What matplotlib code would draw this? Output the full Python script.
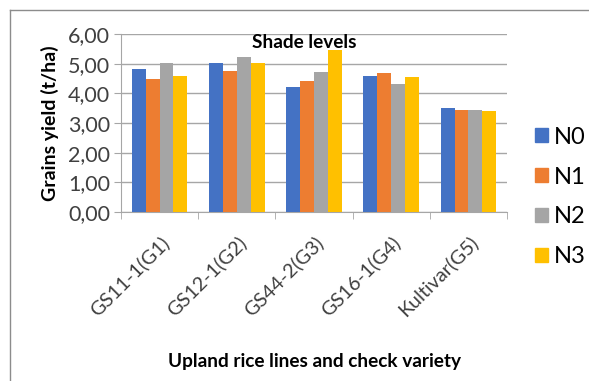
import matplotlib.pyplot as plt
import numpy as np
from matplotlib.lines import Line2D

plt.rcParams['font.family'] = ['Lato', 'DejaVu Sans']

categories = ['GS11-1(G1)', 'GS12-1(G2)', 'GS44-2(G3)', 'GS16-1(G4)', 'Kultivar(G5)']
series_names = ['N0', 'N1', 'N2', 'N3']
n0 = [4.81, 5.01, 4.20, 4.59, 3.49]
n1 = [4.48, 4.76, 4.41, 4.67, 3.44]
n2 = [5.01, 5.23, 4.71, 4.30, 3.44]
n3 = [4.58, 5.01, 5.46, 4.55, 3.39]
colors = ['#4472C4', '#ED7D31', '#A5A5A5', '#FFC000']
yticks = [0, 1, 2, 3, 4, 5, 6]

fig = plt.figure(figsize=(5.89, 3.81), dpi=100)
ax = fig.add_axes([121 / 589, 1 - 212 / 381, 386 / 589, 178 / 381])

x = np.arange(len(categories))
width = 0.18
for i, (vals, name) in enumerate(zip([n0, n1, n2, n3], series_names)):
    ax.bar(x + (i - 1.5) * width, vals, width, color=colors[i], label=name, zorder=3)

ax.set_xlim(-0.5, len(categories) - 0.5)
ax.set_ylim(0, 6)
ax.set_yticks(yticks)
ax.set_yticklabels([f'{v:.2f}'.replace('.', ',') for v in yticks], fontsize=15.5, color='#404040')
ax.set_xticks(x)
ax.set_xticklabels(categories, rotation=45, ha='right', rotation_mode='anchor',
                   fontsize=14.3, color='#404040')
ax.set_xticks(np.arange(len(categories) + 1) - 0.5, minor=True)
ax.tick_params(axis='x', which='major', length=0, pad=15)
ax.tick_params(axis='x', which='minor', length=5, color='#A6A6A6', direction='out')
ax.tick_params(axis='y', length=5, color='#A6A6A6', direction='out', pad=3)
ax.grid(axis='y', color='#A6A6A6', linewidth=1, zorder=0)

for s in ['top', 'right']:
    ax.spines[s].set_visible(False)
for s in ['left', 'bottom']:
    ax.spines[s].set_color('#A6A6A6')

ax.set_xlabel('Upland rice lines and check variety', fontsize=13.7, fontweight='bold', labelpad=24)
ax.set_ylabel('Grains yield (t/ha)', fontsize=14, fontweight='bold', labelpad=6)

fig.text(304 / 589, 1 - 42 / 381, 'Shade levels', fontsize=13.7, fontweight='bold',
         ha='center', va='center')

handles = [plt.Rectangle((0, 0), 1, 1, color=c) for c in colors]
fig.legend(handles, series_names, loc='center left', bbox_to_anchor=(535 / 589, 1 - 197 / 381),
           frameon=False, fontsize=17, handlelength=0.55, handleheight=0.55,
           handletextpad=0.25, labelspacing=0.8, borderaxespad=0, borderpad=0)

# chart frame (only top and left edges are visible)
fig.add_artist(Line2D([10 / 589, 1], [1 - 10 / 381, 1 - 10 / 381], color='#8C8C8C', linewidth=1))
fig.add_artist(Line2D([10 / 589, 10 / 589], [0, 1 - 10 / 381], color='#8C8C8C', linewidth=1))

fig.savefig('out.png', dpi=100)
